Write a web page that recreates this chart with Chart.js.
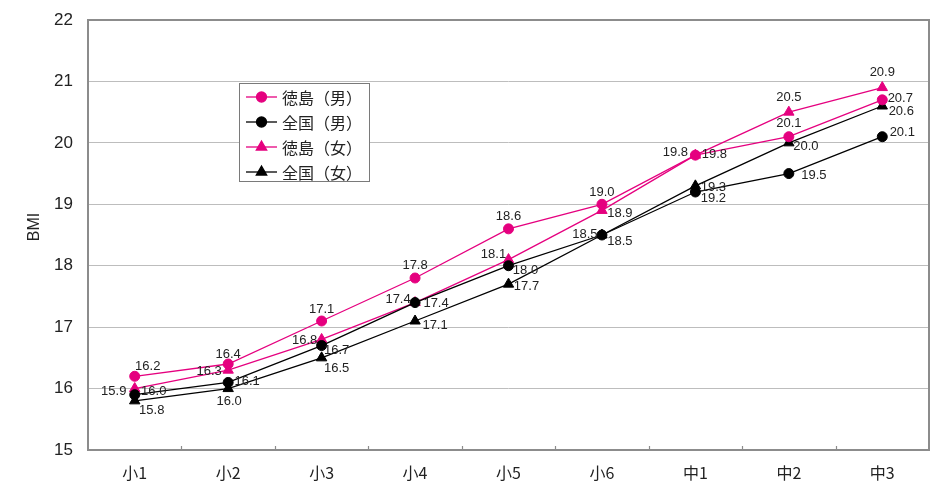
<!DOCTYPE html>
<html>
<head>
<meta charset="utf-8">
<script src="https://cdn.jsdelivr.net/npm/chart.js@4/dist/chart.umd.min.js"></script>
<style>
  html, body { margin: 0; padding: 0; background: #ffffff; overflow: hidden; }
  #wrap { width: 931px; height: 484px; }
  canvas { display: block; }
</style>
</head>
<body>
<div id="wrap"><canvas id="bmi" width="931" height="484"></canvas></div>
<script>
// 学年区分
const categories = ['小1', '小2', '小3', '小4', '小5', '小6', '中1', '中2', '中3'];

// 平均BMI（徳島県・全国、男女別）
const tokushimaBoys  = [16.2, 16.4, 17.1, 17.8, 18.6, 19.0, 19.8, 20.1, 20.7];
const nationalBoys   = [15.9, 16.1, 16.7, 17.4, 18.0, 18.5, 19.2, 19.5, 20.1];
const tokushimaGirls = [16.0, 16.3, 16.8, 17.4, 18.1, 18.9, 19.8, 20.5, 20.9];
const nationalGirls  = [15.8, 16.0, 16.5, 17.1, 17.7, 18.5, 19.3, 20.0, 20.6];

// 縦軸の目盛
const yTicks = [15, 16, 17, 18, 19, 20, 21, 22];

const PINK = '#e5007f';
const BLACK = '#000000';

// 数値ラベルの位置（点からの中心オフセット [dx, dy]）
const labelOffsets = [
  [[13, -10], [0, -10], [0, -12], [0, -13], [0, -12], [0, -12], [19, -1], [0, -13], [18, -1]],
  [[-21, -3], [19, -1], [15, 5], [21, 1], [17, 5], [18, 6], [18, 6], [25, 2], [20, -4]],
  [[19, 3], [-19, 1], [-17, 1], [-17, -3], [-15, -5], [18, 3], [-20, -3], [0, -15], [0, -15]],
  [[17, 10], [1, 13], [15, 11], [20, 4], [18, 2], [-17, -1], [18, 2], [17, 4], [19, 5]]
];

function series(label, data, color, style, radius) {
  return {
    label, data,
    borderColor: color,
    backgroundColor: color,
    pointBackgroundColor: color,
    pointBorderColor: color,
    pointStyle: style,
    pointRadius: radius,
    pointHoverRadius: radius,
    pointBorderWidth: 1,
    borderWidth: 1.3,
    tension: 0,
    fill: false
  };
}

const datasets = [
  series('徳島（男）', tokushimaBoys, PINK, 'circle', 5),
  series('全国（男）', nationalBoys, BLACK, 'circle', 5),
  series('徳島（女）', tokushimaGirls, PINK, 'triangle', 6),
  series('全国（女）', nationalGirls, BLACK, 'triangle', 6)
];

const FRAME = '#8c8c8c';

// 枠線と横軸の区切り目盛
const framePlugin = {
  id: 'frame',
  beforeDatasetsDraw(chart) {
    const { ctx, chartArea: a, scales: { x } } = chart;
    ctx.save();
    ctx.strokeStyle = FRAME;
    ctx.lineWidth = 2;
    ctx.strokeRect(a.left, a.top, a.right - a.left, a.bottom - a.top);
    ctx.lineWidth = 1.2;
    for (let i = 0; i < categories.length - 1; i++) {
      const px = Math.round((x.getPixelForValue(i) + x.getPixelForValue(i + 1)) / 2) + 0.5;
      ctx.beginPath();
      ctx.moveTo(px, a.bottom);
      ctx.lineTo(px, a.bottom - 4);
      ctx.stroke();
    }
    ctx.restore();
  }
};

// 各点の数値ラベル
const valueLabelPlugin = {
  id: 'valueLabels',
  afterDatasetsDraw(chart) {
    const { ctx } = chart;
    ctx.save();
    ctx.font = '13px "Liberation Sans", Arial, sans-serif';
    ctx.fillStyle = '#222222';
    ctx.textAlign = 'center';
    ctx.textBaseline = 'middle';
    chart.data.datasets.forEach((ds, di) => {
      const meta = chart.getDatasetMeta(di);
      meta.data.forEach((pt, i) => {
        const [dx, dy] = labelOffsets[di][i];
        ctx.fillText(ds.data[i].toFixed(1), pt.x + dx, pt.y + dy);
      });
    });
    ctx.restore();
  }
};

// 凡例と縦軸タイトル
const legendBoxPlugin = {
  id: 'legendBox',
  afterDraw(chart) {
    const { ctx, chartArea: a } = chart;
    ctx.save();

    ctx.font = '16px "Liberation Sans", Arial, sans-serif';
    ctx.fillStyle = '#222222';
    ctx.textAlign = 'center';
    ctx.textBaseline = 'middle';
    ctx.translate(35, (a.top + a.bottom) / 2 - 8);
    ctx.rotate(-Math.PI / 2);
    ctx.fillText('BMI', 0, 0);
    ctx.setTransform(1, 0, 0, 1, 0, 0);

    const bx = 239, by = 83, bw = 130, bh = 98;
    ctx.fillStyle = '#ffffff';
    ctx.fillRect(bx, by, bw, bh);
    ctx.strokeStyle = '#7a7a7a';
    ctx.lineWidth = 1;
    ctx.strokeRect(bx + 0.5, by + 0.5, bw, bh);

    chart.data.datasets.forEach((ds, i) => {
      const cy = by + 14 + i * 25;
      ctx.strokeStyle = ds.borderColor;
      ctx.lineWidth = 1.3;
      ctx.beginPath();
      ctx.moveTo(bx + 7, cy);
      ctx.lineTo(bx + 38, cy);
      ctx.stroke();
      ctx.fillStyle = ds.backgroundColor;
      Chart.helpers.drawPoint(ctx, {
        pointStyle: ds.pointStyle,
        radius: ds.pointRadius,
        rotation: 0,
        borderWidth: 1
      }, bx + 22.5, cy);
      ctx.fillStyle = '#222222';
      ctx.font = '16px "Noto Sans CJK JP", sans-serif';
      ctx.textAlign = 'left';
      ctx.textBaseline = 'middle';
      ctx.fillText(ds.label, bx + 43, cy + 1);
    });
    ctx.restore();
  }
};

new Chart(document.getElementById('bmi'), {
  type: 'line',
  data: { labels: categories, datasets },
  plugins: [framePlugin, valueLabelPlugin, legendBoxPlugin],
  options: {
    responsive: false,
    animation: false,
    devicePixelRatio: 1,
    layout: { autoPadding: false, padding: { top: 20, right: 2, left: 0, bottom: 0 } },
    plugins: {
      legend: { display: false },
      tooltip: { enabled: false }
    },
    scales: {
      x: {
        offset: true,
        grid: {
          drawOnChartArea: false,
          drawTicks: true,
          tickLength: 4,
          tickColor: 'rgba(0,0,0,0)'
        },
        border: { display: false },
        ticks: {
          padding: 9,
          color: '#222222',
          font: { family: '"Noto Sans CJK JP", sans-serif', size: 16 }
        },
        afterFit(scale) {
          scale.height = 34;
          scale.paddingLeft = 0;
          scale.paddingRight = 0;
        }
      },
      y: {
        min: yTicks[0],
        max: yTicks[yTicks.length - 1],
        afterBuildTicks(scale) { scale.ticks = yTicks.map(v => ({ value: v })); },
        grid: {
          drawTicks: true,
          tickLength: 13,
          tickColor: 'rgba(0,0,0,0)',
          color: '#bdbdbd',
          lineWidth: 1
        },
        border: { display: false },
        ticks: {
          padding: 2,
          color: '#222222',
          font: { family: '"Liberation Sans", Arial, sans-serif', size: 17 }
        },
        afterFit(scale) { scale.width = 88; }
      }
    }
  }
});
</script>
</body>
</html>
